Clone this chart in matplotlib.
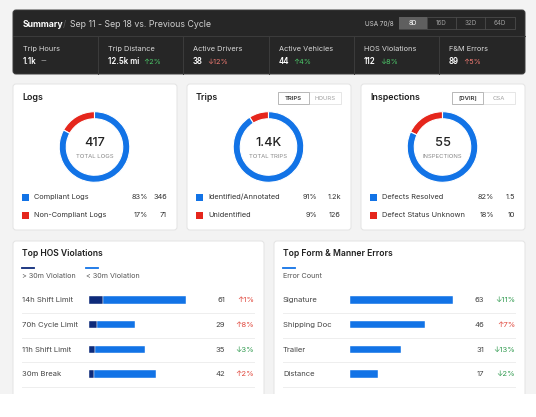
import matplotlib
matplotlib.use("Agg")
import matplotlib.pyplot as plt
from matplotlib.patches import FancyBboxPatch, Rectangle

plt.rcParams['font.family'] = ['Inter', 'DejaVu Sans']

# ---- data ----
summary_title = "Summary"
summary_period = "Sep 11 - Sep 18 vs. Previous Cycle"
ruleset = "USA 70/8"
cycle_buttons = ["8D", "16D", "32D", "64D"]

stat_labels = ["Trip Hours", "Trip Distance", "Active Drivers", "Active Vehicles", "HOS Violations", "F&M Errors"]
stat_values = ["1.1k", "12.5k mi", "38", "44", "112", "89"]
stat_changes = ["--", "\u21912%", "\u219312%", "\u21914%", "\u21938%", "\u21915%"]
stat_good = [None, True, False, True, True, False]

donut_titles = ["Logs", "Trips", "Inspections"]
donut_totals = ["417", "1.4K", "55"]
donut_subs = ["TOTAL LOGS", "TOTAL TRIPS", "INSPECTIONS"]
donut_names = [["Compliant Logs", "Non-Compliant Logs"],
               ["Identified/Annotated", "Unidentified"],
               ["Defects Resolved", "Defect Status Unknown"]]
donut_pcts = [[83, 17], [91, 9], [82, 18]]
donut_counts = [["346", "71"], ["1.2k", "126"], ["1.5", "10"]]
donut_toggles = [None, ["TRIPS", "HOURS"], ["[DVIR]", "CSA"]]

hos_names = ["14h Shift Limit", "70h Cycle Limit", "11h Shift Limit", "30m Break"]
hos_over30 = [9, 5, 4, 3]
hos_under30 = [52, 24, 31, 39]
hos_totals = [61, 29, 35, 42]
hos_changes = ["\u21911%", "\u21918%", "\u21933%", "\u21912%"]
hos_good = [False, False, True, False]

fm_names = ["Signature", "Shipping Doc", "Trailer", "Distance"]
fm_counts = [63, 46, 31, 17]
fm_changes = ["\u219311%", "\u21917%", "\u219313%", "\u21932%"]
fm_good = [True, False, True, True]

# ---- colours ----
BLUE = "#1273e6"
NAVY = "#0d2a7a"
RED = "#e5261c"
GREEN = "#2f9a4e"
BADRED = "#e0453a"

W, H = 536, 417
fig = plt.figure(figsize=(W / 100, H / 100), dpi=100)
fig.patch.set_facecolor("white")
bg = fig.add_axes([0, 0, 1, 1])
bg.set_xlim(0, W)
bg.set_ylim(H, 0)
bg.axis("off")


def px_axes(x, y, w, h):
    return fig.add_axes([x / W, 1 - (y + h) / H, w / W, h / H])


def card(x, y, w, h, fc="white", ec="#e3e3e3"):
    bg.add_patch(FancyBboxPatch((x, y), w, h, boxstyle="round,pad=0,rounding_size=3",
                                fc=fc, ec=ec, lw=0.7, zorder=1))


bg.add_patch(Rectangle((0, 0), W, 394, fc="#f3f3f3", ec="none", zorder=0))

# ---- summary panel ----
card(13, 10, 512, 64, fc="#262626", ec="#3a3a3a")
bg.plot([13, 525], [36, 36], color="#3c3c3c", lw=0.7, zorder=2)
bg.text(23, 24, summary_title, color="white", fontsize=6.3, fontweight="bold", va="center", zorder=3)
bg.text(63, 24, "/", color="#5a5a5a", fontsize=6.3, va="center", zorder=3)
bg.text(70, 24, summary_period, color="#cfcfcf", fontsize=6.3, va="center", zorder=3)
bg.text(365, 24, ruleset, color="#cfcfcf", fontsize=4.6, va="center", zorder=3)
bx = [399, 427, 456, 485, 515]
bg.add_patch(Rectangle((399, 17), 116, 12, fc="none", ec="#4a4a4a", lw=0.6, zorder=2))
bg.add_patch(Rectangle((399, 17), 28, 12, fc="#5f5f5f", ec="none", zorder=2))
for i, b in enumerate(cycle_buttons):
    if i > 0:
        bg.plot([bx[i], bx[i]], [17, 29], color="#4a4a4a", lw=0.6, zorder=3)
    bg.text((bx[i] + bx[i + 1]) / 2, 23.2, b, color="white" if i == 0 else "#9a9a9a",
            fontsize=4.5, ha="center", va="center", zorder=4)

col_x = [23, 108, 193, 279, 364, 449]
for i in range(len(stat_labels)):
    if i > 0:
        bg.plot([col_x[i] - 10, col_x[i] - 10], [36, 74], color="#3c3c3c", lw=0.7, zorder=2)
    bg.text(col_x[i], 49, stat_labels[i], color="#dadada", fontsize=5.3, va="center", zorder=3)
    vt = bg.text(col_x[i], 61.5, stat_values[i], color="white", fontsize=5.7,
                 fontweight="semibold", va="center", zorder=3)
    if stat_good[i] is None:
        c = "#bdbdbd"
    else:
        c = "#4cc96a" if stat_good[i] else "#f07a72"
    bg.annotate(stat_changes[i], xy=(1, 0.5), xycoords=vt, xytext=(3, 0), textcoords="offset points",
                color=c, fontsize=5.3, va="center", zorder=3)

# ---- donut cards ----
card_left = [13, 187, 361]
pct_col = [135, 130, 133]
for k in range(3):
    L = card_left[k]
    card(L, 84, 164, 146)
    bg.text(L + 9, 97, donut_titles[k], color="#1f1f1f", fontsize=6.4, fontweight="semibold",
            va="center", zorder=3)
    if donut_toggles[k]:
        t0, t1 = donut_toggles[k]
        bg.add_patch(Rectangle((L + 91, 92), 63, 12, fc="white", ec="#e2e2e2", lw=0.6, zorder=2))
        bg.add_patch(Rectangle((L + 91, 92), 31, 12, fc="white", ec="#b8b8b8", lw=0.7, zorder=3))
        bg.text(L + 106.5, 98.2, t0, color="#333333", fontsize=4.3, fontweight="semibold",
                ha="center", va="center", zorder=4)
        bg.text(L + 138, 98.2, t1, color="#a0a0a0", fontsize=4.3, ha="center", va="center", zorder=4)

    cx, cy, r = L + 81.5, 147, 36
    ax = px_axes(cx - r, cy - r, 2 * r, 2 * r)
    blue_pct, red_pct = donut_pcts[k]
    ax.pie([red_pct, blue_pct], colors=[RED, BLUE], startangle=90, counterclock=True,
           wedgeprops=dict(width=0.2, edgecolor="white", linewidth=0.8))
    ax.set_xlim(-1.02, 1.02)
    ax.set_ylim(-1.02, 1.02)
    ax.axis("off")
    bg.text(cx, 143, donut_totals[k], color="#222222", fontsize=9.2, fontweight="medium",
            ha="center", va="center", zorder=3)
    bg.text(cx, 156, donut_subs[k], color="#8a8a8a", fontsize=4.3, ha="center", va="center", zorder=3)

    for j, yy in enumerate([197, 215]):
        bg.add_patch(Rectangle((L + 9, yy - 3.5), 7, 7, fc=[BLUE, RED][j], ec="none", zorder=3))
        bg.text(L + 21, yy, donut_names[k][j], color="#333333", fontsize=5.3, va="center", zorder=3)
        bg.text(L + pct_col[k], yy, f"{donut_pcts[k][j]}%", color="#333333", fontsize=5.3,
                ha="right", va="center", zorder=3)
        bg.text(L + 154, yy, donut_counts[k][j], color="#333333", fontsize=5.3,
                ha="right", va="center", zorder=3)

# ---- bottom cards ----
row_y = [300, 325, 350, 374]
sep_y = [313, 338, 362, 387]
for L, title in [(13, "Top HOS Violations"), (274, "Top Form & Manner Errors")]:
    card(L, 241, 251, 170)
    bg.text(L + 9, 254, title, color="#1f1f1f", fontsize=6.2, fontweight="semibold", va="center", zorder=3)
    for sy in sep_y:
        bg.plot([L + 9, L + 241], [sy, sy], color="#eeeeee", lw=0.7, zorder=2)

# HOS legend
bg.plot([22, 34], [268, 268], color=NAVY, lw=1.3, zorder=3)
bg.plot([86, 98], [268, 268], color=BLUE, lw=1.3, zorder=3)
bg.text(22, 276, "> 30m Violation", color="#555555", fontsize=5.2, va="center", zorder=3)
bg.text(86, 276, "< 30m Violation", color="#555555", fontsize=5.2, va="center", zorder=3)
# F&M legend
bg.plot([283, 295], [268, 268], color=BLUE, lw=1.3, zorder=3)
bg.text(283, 276, "Error Count", color="#555555", fontsize=5.2, va="center", zorder=3)

for i in range(4):
    y = row_y[i]
    bg.text(22, y, hos_names[i], color="#444444", fontsize=5.5, va="center", zorder=3)
    bg.text(225, y, str(hos_totals[i]), color="#444444", fontsize=5.5, ha="right", va="center", zorder=3)
    bg.text(254, y, hos_changes[i], color=GREEN if hos_good[i] else BADRED, fontsize=5.5,
            ha="right", va="center", zorder=3)
    bg.text(283, y, fm_names[i], color="#444444", fontsize=5.5, va="center", zorder=3)
    bg.text(484, y, str(fm_counts[i]), color="#444444", fontsize=5.5, ha="right", va="center", zorder=3)
    bg.text(515, y, fm_changes[i], color=GREEN if fm_good[i] else BADRED, fontsize=5.5,
            ha="right", va="center", zorder=3)

span = (row_y[-1] - row_y[0]) / 3
hos_ax = px_axes(89, row_y[0] - span / 2, 136, span * 4)
hos_ax.barh(range(4), hos_over30, height=0.3, color=NAVY, edgecolor="white", linewidth=0.3)
hos_ax.barh(range(4), hos_under30, left=hos_over30, height=0.3, color=BLUE, edgecolor="white", linewidth=0.3)
hos_ax.set_xlim(0, 136 * 61 / 97)
hos_ax.set_ylim(3.5, -0.5)
hos_ax.axis("off")

fm_ax = px_axes(350, row_y[0] - span / 2, 134, span * 4)
fm_ax.barh(range(4), fm_counts, height=0.3, color=BLUE, edgecolor="white", linewidth=0.3)
fm_ax.set_xlim(0, 134 * 63 / 103)
fm_ax.set_ylim(3.5, -0.5)
fm_ax.axis("off")

bg.add_patch(Rectangle((0, 394), W, H - 394, fc="white", ec="none", zorder=10))

fig.savefig("out.png", dpi=100)
